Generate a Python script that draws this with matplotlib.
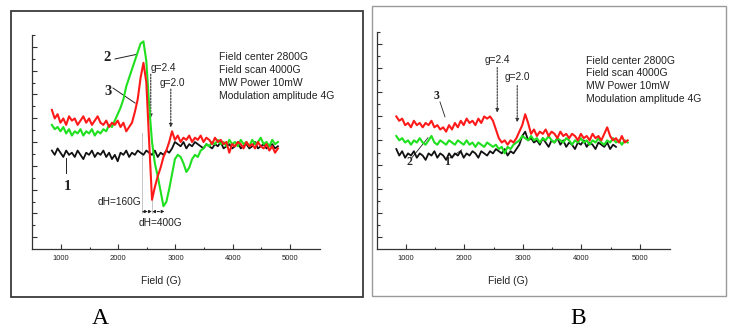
import numpy as np
import matplotlib
matplotlib.use("Agg")
import matplotlib.pyplot as plt
from matplotlib.patches import Rectangle

plt.rcParams['font.family'] = ['Liberation Sans', 'DejaVu Sans']

# ---------------- data ----------------
field = np.arange(840, 4800, 50)          # 80 points, 840 .. 4790 G
field_b1 = np.arange(840, 4600, 50)       # 76 points, 840 .. 4590 G

# Panel A
a_red = [65, 61, 63, 59, 61, 58, 62, 60, 61, 58, 60, 62, 59, 61, 58, 60, 62, 59, 58, 60,
         57, 59, 58, 60, 57, 59, 55, 57, 59, 64, 70, 80, 87, 78, 50, 23, 29, 34, 38, 43,
         46, 50, 55, 51, 53, 50, 52, 51, 53, 50, 52, 51, 53, 50, 52, 51, 49, 52, 50, 51,
         49, 50, 45, 49, 48, 50, 49, 47, 50, 48, 49, 47, 50, 48, 47, 49, 46, 48, 45, 47]
a_green = [58, 56, 57, 55, 57, 54, 56, 53, 55, 54, 56, 53, 55, 54, 56, 53, 55, 54, 56, 55,
           58, 57, 60, 63, 66, 70, 76, 80, 84, 88, 92, 96, 97, 88, 67, 50, 40, 34, 27, 20,
           22, 28, 35, 42, 44, 43, 40, 36, 38, 42, 44, 43, 46, 47, 49, 48, 50, 49, 51, 49,
           50, 48, 51, 49, 50, 48, 51, 49, 50, 48, 51, 49, 50, 52, 49, 50, 48, 51, 49, 50]
a_black = [46, 44, 47, 45, 43, 46, 44, 45, 43, 46, 44, 42, 45, 44, 46, 43, 45, 44, 46, 43,
           45, 42, 44, 41, 45, 44, 46, 43, 45, 44, 46, 45, 44, 46, 45, 44, 46, 43, 45, 44,
           46, 45, 47, 50, 49, 48, 50, 47, 49, 48, 50, 49, 48, 47, 49, 48, 47, 49, 48, 50,
           47, 48, 49, 47, 48, 50, 47, 48, 49, 47, 48, 50, 47, 48, 49, 47, 48, 49, 47, 48]

# Panel B
b_red = [61, 59, 60, 57, 58, 56, 59, 57, 58, 56, 58, 57, 59, 56, 57, 55, 56, 54, 57, 55,
         58, 56, 59, 57, 60, 58, 59, 57, 60, 58, 61, 60, 61, 59, 55, 51, 49, 50, 48, 50,
         49, 51, 54, 57, 62, 58, 53, 55, 52, 54, 53, 55, 52, 54, 53, 51, 54, 52, 53, 51,
         53, 52, 50, 53, 51, 52, 50, 53, 51, 52, 50, 53, 56, 52, 50, 51, 49, 52, 49, 50]
b_green = [52, 50, 51, 49, 50, 48, 50, 49, 51, 49, 48, 50, 52, 49, 48, 50, 49, 48, 50, 49,
           48, 50, 49, 48, 50, 48, 49, 47, 49, 48, 47, 49, 48, 47, 48, 46, 47, 44, 47, 46,
           48, 49, 50, 52, 51, 50, 52, 50, 51, 49, 51, 50, 52, 50, 49, 51, 50, 49, 51, 50,
           48, 50, 49, 51, 49, 50, 48, 50, 49, 51, 49, 48, 50, 49, 51, 49, 50, 48, 50, 49]
b_black = [46, 43, 45, 42, 44, 43, 45, 42, 44, 43, 41, 44, 43, 45, 42, 44, 43, 41, 44, 42,
           44, 43, 45, 42, 44, 43, 45, 44, 42, 45, 44, 43, 45, 44, 46, 45, 44, 46, 43, 45,
           44, 46, 48, 52, 54, 50, 51, 49, 50, 48, 51, 49, 47, 50, 49, 51, 48, 50, 47, 49,
           48, 46, 49, 48, 50, 47, 49, 48, 46, 49, 48, 47, 49, 46, 48, 47]

xticks = [1000, 2000, 3000, 4000, 5000]
info_lines = ["Field center 2800G", "Field scan 4000G", "MW Power 10mW",
              "Modulation amplitude 4G"]

RED = '#ff1a1a'
GREEN = '#1ee01e'
BLACK = '#111111'

W, H = 729, 329
fig = plt.figure(figsize=(W / 100, H / 100), dpi=100)


def px_rect(x0, y0, x1, y1):
    return [x0 / W, 1 - y1 / H, (x1 - x0) / W, (y1 - y0) / H]


# outer frames
fig.patches.append(Rectangle((10.5 / W, 1 - 297 / H), (362.5 - 10.5) / W, (297 - 10.5) / H,
                             transform=fig.transFigure, fill=False, ec='#3a3a3a', lw=1.3))
fig.patches.append(Rectangle((372 / W, 1 - 296 / H), (726 - 372) / W, (296 - 6) / H,
                             transform=fig.transFigure, fill=False, ec='#9a9a9a', lw=1.0))


def style_axes(ax, xlim):
    ax.set_xlim(*xlim)
    ax.set_ylim(0, 100)
    for s in ['top', 'right']:
        ax.spines[s].set_visible(False)
    for s in ['left', 'bottom']:
        ax.spines[s].set_color('#333333')
        ax.spines[s].set_linewidth(0.9)
    ax.set_xticks(xticks)
    ax.set_xticks(np.arange(1500, 5500, 1000), minor=True)
    ax.set_xticklabels([str(t) for t in xticks], fontsize=5.5, color='#222222')
    yt = 100 - 5.56 * np.arange(18)
    ax.set_yticks(yt[1::2])
    ax.set_yticks(yt[0::2], minor=True)
    ax.set_yticklabels([])
    ax.tick_params(axis='both', which='major', direction='in', length=3.5, width=0.8,
                   color='#333333', pad=4)
    ax.tick_params(axis='both', which='minor', direction='in', length=1.8, width=0.8,
                   color='#333333')
    ax.set_xlabel('Field (G)', fontsize=7.4, color='#222222')
    ax.xaxis.set_label_coords(0.448, -0.125)
    ax.patch.set_alpha(0)


# ---------------- Panel A ----------------
axA = fig.add_axes(px_rect(32, 35, 320, 249))
style_axes(axA, (493, 5525))
axA.plot(field, a_black, color=BLACK, lw=1.3, zorder=3)
axA.plot(field, a_green, color=GREEN, lw=1.5, zorder=4)
axA.plot(field, a_red, color=RED, lw=1.5, zorder=5)

for i, line in enumerate(info_lines):
    axA.text(3768, 89.7 - 6.05 * i, line, fontsize=7.5, color='#222222', va='center')

dash = dict(arrowstyle='-|>', linestyle=(0, (1.5, 1.2)), color='#333333', lw=0.8,
            mutation_scale=5)
axA.annotate('', xy=(2568, 60), xytext=(2568, 83), arrowprops=dash)
axA.annotate('', xy=(2918, 55.5), xytext=(2918, 76), arrowprops=dash)
axA.text(2560, 84.6, 'g=2.4', fontsize=7.3, color='#222222', va='center')
axA.text(2725, 77.6, 'g=2.0', fontsize=7.3, color='#222222', va='center')
axA.plot([2410, 2410], [54, 17], color='#bbbbbb', lw=0.6, zorder=2)
axA.plot([2590, 2590], [23, 17], color='#bbbbbb', lw=0.6, zorder=2)
harrow = dict(arrowstyle='<|-|>', linestyle=(0, (2, 1.5)), color='#222222', lw=0.8,
              mutation_scale=4, shrinkA=0, shrinkB=0)
axA.annotate('', xy=(2410, 17.5), xytext=(2590, 17.5), arrowprops=harrow)
axA.annotate('', xy=(2590, 17.5), xytext=(2810, 17.5), arrowprops=harrow)
axA.text(2400, 22, 'dH=160G', fontsize=7.3, color='#222222', ha='right', va='center')
axA.text(2350, 12.1, 'dH=400G', fontsize=7.3, color='#222222', ha='left', va='center')

serif = ['Liberation Serif', 'DejaVu Serif']
axA.text(1804, 89.7, '2', fontsize=10.5, fontweight='bold', family=serif, ha='center',
         va='center', color='#222222')
axA.plot([1944, 2329], [88.8, 91], color='#222222', lw=0.7)
axA.text(1822, 73.8, '3', fontsize=10.5, fontweight='bold', family=serif, ha='center',
         va='center', color='#222222')
axA.plot([1909, 2294], [75.2, 68.2], color='#222222', lw=0.7)
axA.text(1105, 29.4, '1', fontsize=10.5, fontweight='bold', family=serif, ha='center',
         va='center', color='#222222')
axA.plot([1087, 1087], [42.5, 35.5], color='#222222', lw=0.7)

# ---------------- Panel B ----------------
axB = fig.add_axes(px_rect(376.7, 31.7, 670, 249))
style_axes(axB, (505, 5512))
axB.plot(field_b1, b_black, color=BLACK, lw=1.3, zorder=3)
axB.plot(field, b_green, color=GREEN, lw=1.5, zorder=4)
axB.plot(field, b_red, color=RED, lw=1.5, zorder=5)

for i, line in enumerate(info_lines):
    axB.text(4072, 86.6 - 5.8 * i, line, fontsize=7.5, color='#222222', va='center')

axB.annotate('', xy=(2563, 61.5), xytext=(2563, 84.8), arrowprops=dash)
axB.annotate('', xy=(2904, 57), xytext=(2904, 76.5), arrowprops=dash)
axB.text(2353, 87, 'g=2.4', fontsize=7.3, color='#222222', va='center')
axB.text(2695, 79.3, 'g=2.0', fontsize=7.3, color='#222222', va='center')

axB.text(1529, 70.2, '3', fontsize=8.5, fontweight='bold', family=serif, ha='center',
         va='center', color='#222222')
axB.plot([1585, 1671], [67.7, 60.8], color='#222222', lw=0.6)
axB.text(1056, 40, '2', fontsize=8.5, fontweight='bold', family=serif, ha='center',
         va='center', color='#222222')
axB.plot([1102, 1380], [41.9, 51.2], color='#222222', lw=0.6)
axB.text(1700, 40, '1', fontsize=8.5, fontweight='bold', family=serif, ha='center',
         va='center', color='#222222')
axB.plot([1756, 1956], [41.9, 45.6], color='#222222', lw=0.6)

# panel letters
fig.text(100 / W, 1 - 318 / H, 'A', fontsize=17, family=serif, ha='center', va='center')
fig.text(578 / W, 1 - 318 / H, 'B', fontsize=17, family=serif, ha='center', va='center')

fig.savefig('out.png', dpi=100)
